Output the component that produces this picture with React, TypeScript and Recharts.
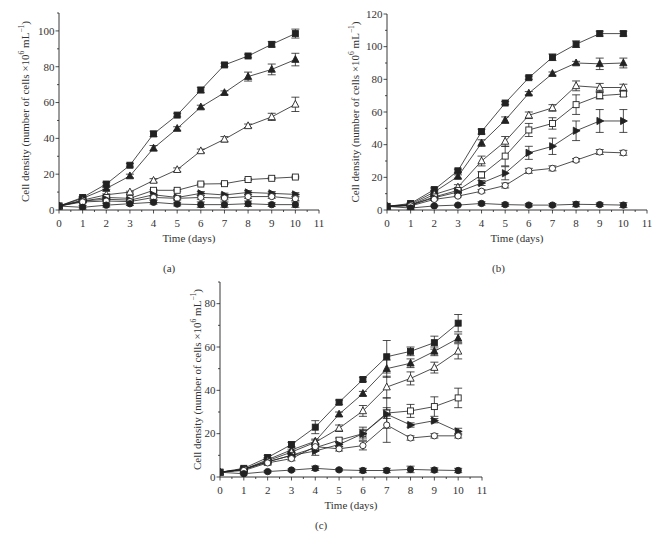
import React from 'react';
import { LineChart, Line, XAxis, YAxis, ErrorBar, Label } from 'recharts';

const FONT = '"Liberation Serif", "Times New Roman", serif';
const INK = '#222';

// ---- shared categories / ticks ----
const days = [0, 1, 2, 3, 4, 5, 6, 7, 8, 9, 10];
const xTicks = [0, 0.5, 1, 1.5, 2, 2.5, 3, 3.5, 4, 4.5, 5, 5.5, 6, 6.5, 7, 7.5, 8, 8.5, 9, 9.5, 10, 10.5, 11];
const yTicksA = [0, 10, 20, 30, 40, 50, 60, 70, 80, 90, 100, 110];
const yTicksB = [0, 10, 20, 30, 40, 50, 60, 70, 80, 90, 100, 110, 120];
const yTicksC = [0, 10, 20, 30, 40, 50, 60, 70, 80, 90];
const majorYTicksA = [0, 20, 40, 60, 80, 100];
const majorYTicksB = [0, 20, 40, 60, 80, 100, 120];
const majorYTicksC = [0, 20, 40, 60, 80];

// series order: filled square, filled triangle, open triangle, open square, filled right triangle, open circle, filled circle
const seriesKeys = ['fsq', 'ftri', 'otri', 'osq', 'rtri', 'ocirc', 'fcirc'];

// ---- panel (a) ----
const aFsq = [2.2, 7, 14.5, 25, 42.5, 53, 67, 81, 86, 92.5, 98.5];
const aFtri = [2.2, 6.5, 12, 19, 34.5, 45.5, 57.5, 65.5, 74.5, 78.5, 84];
const aOtri = [2.2, 5.5, 8.5, 10, 16.5, 22.5, 33, 39.5, 47, 52, 59];
const aOsq = [2.2, 5, 7, 6.5, 11, 11, 14.5, 14.7, 17, 17.7, 18.4];
const aRtri = [2.2, 5, 6, 5.5, 8.5, 7, 9.3, 8.4, 9.8, 9.3, 8.7];
const aOcirc = [2.2, 4.5, 5, 4.7, 7, 6.5, 7, 6.7, 7.5, 7.5, 6.3];
const aFcirc = [2.2, 1.5, 2.7, 3.5, 4.3, 3.3, 3, 3, 3.5, 3, 3];
const aFsqErr = [0, 0.5, 1, 1, 1.5, 1, 1.5, 1, 1, 1.5, 2.5];
const aFtriErr = [0, 0.5, 0.5, 1, 1.5, 1, 1, 1, 2.5, 3, 3.5];
const aOtriErr = [0, 0.5, 0.5, 0.5, 1, 1, 1, 1.5, 1, 2, 4];
const aOsqErr = [0, 0.5, 0.5, 0.5, 0.5, 0.5, 0.5, 0.5, 0.5, 0.5, 0.5];
const aRtriErr = [0, 0.5, 0.5, 0.5, 1, 1, 1, 1, 1, 1, 1];
const aOcircErr = [0, 0.5, 0.5, 0.5, 1, 1, 1, 1, 1, 1, 1];
const aFcircErr = [0, 1, 1, 1, 1, 1, 1.5, 1.5, 1.5, 1, 1.5];

// ---- panel (b) ----
const bFsq = [2.2, 4, 12.5, 24, 48, 65.5, 81, 93.5, 101.5, 108, 108];
const bFtri = [2.2, 3.5, 11, 20.5, 41, 55, 71.5, 83.5, 90, 89.5, 90];
const bOtri = [2.2, 3, 9.5, 14, 30, 42, 58, 62.5, 76, 75, 75];
const bOsq = [2.2, 3, 8, 12, 21.5, 33, 49, 53, 64.5, 70, 71];
const bRtri = [2.2, 3, 7.5, 11, 16.5, 22.5, 35, 39, 48.5, 54.5, 54.5];
const bOcirc = [2.2, 2.5, 6.5, 8.5, 11.5, 15, 24, 25.5, 30.5, 35.5, 35];
const bFcirc = [2.2, 1.2, 2.5, 3, 4, 3.3, 3, 3, 3.5, 3.3, 3];
const bFsqErr = [0, 0.5, 1, 1, 1.5, 1, 1, 2, 2, 1.5, 1.5];
const bFtriErr = [0, 0.5, 1, 1, 2, 2, 1, 1, 1, 3.5, 3];
const bOtriErr = [0, 0.5, 1, 1.5, 3, 3, 2, 2, 3, 2.5, 2];
const bOsqErr = [0, 0.5, 1, 1.5, 2, 6, 4, 3.5, 6, 2, 1.5];
const bRtriErr = [0, 0.5, 1, 1, 1.5, 4, 4, 5, 6, 7, 7];
const bOcircErr = [0, 0.5, 0.5, 0.5, 1, 1.5, 1.5, 1.5, 1, 1.5, 1.5];
const bFcircErr = [0, 1, 0.5, 0.5, 1, 1, 1, 1, 1.5, 1, 1.5];

// ---- panel (c) ----
const cFsq = [2.2, 4, 9, 15, 23, 34.5, 45, 55.5, 58, 62, 71];
const cFtri = [2.2, 3.5, 8, 12.5, 16.5, 29, 38.5, 50, 52.5, 58, 64];
const cOtri = [2.2, 3.5, 7.5, 11.5, 16, 22.5, 30.5, 41.5, 45.5, 50.5, 58];
const cOsq = [2.2, 3.5, 7, 10, 13.5, 17, 20, 29.5, 30.5, 32.5, 36.5];
const cRtri = [2.2, 3.5, 7, 10, 12, 15, 20, 29, 24, 26, 21];
const cOcirc = [2.2, 3, 6.5, 8.5, 14, 13, 14.5, 24, 18, 19, 19];
const cFcirc = [2.2, 1.5, 2.5, 3.2, 4, 3.3, 3, 3, 3.5, 3.2, 3];
const cFsqErr = [0, 0.5, 1, 1, 3, 1, 1, 7.5, 2, 3, 4];
const cFtriErr = [0, 0.5, 1, 1, 1, 1, 1, 4, 2, 2, 2];
const cOtriErr = [0, 0.5, 1, 1, 1, 1.5, 2.5, 5, 3, 2.5, 3.5];
const cOsqErr = [0, 0.5, 1, 1, 1, 1, 3, 7, 3, 4.5, 4.5];
const cRtriErr = [0, 0.5, 1, 1, 2, 1, 2, 2, 1, 1, 1.5];
const cOcircErr = [0, 0.5, 1, 1, 1, 1, 2, 8, 1, 1, 1];
const cFcircErr = [0, 0.5, 0.5, 0.5, 1, 0.5, 1, 1, 1.5, 1, 1];

const buildRows = (vals: number[][], errs: number[][]) =>
  days.map((d, i) => {
    const row: any = { day: d };
    seriesKeys.forEach((k, s) => {
      row[k] = vals[s][i];
      row[k + '_e'] = errs[s][i];
    });
    return row;
  });

const dataA = buildRows(
  [aFsq, aFtri, aOtri, aOsq, aRtri, aOcirc, aFcirc],
  [aFsqErr, aFtriErr, aOtriErr, aOsqErr, aRtriErr, aOcircErr, aFcircErr]
);
const dataB = buildRows(
  [bFsq, bFtri, bOtri, bOsq, bRtri, bOcirc, bFcirc],
  [bFsqErr, bFtriErr, bOtriErr, bOsqErr, bRtriErr, bOcircErr, bFcircErr]
);
const dataC = buildRows(
  [cFsq, cFtri, cOtri, cOsq, cRtri, cOcirc, cFcirc],
  [cFsqErr, cFtriErr, cOtriErr, cOsqErr, cRtriErr, cOcircErr, cFcircErr]
);

const Marker = ({ cx, cy, shape }: { cx: number; cy: number; shape: string }) => {
  if (cx == null || cy == null || isNaN(cx) || isNaN(cy)) return <g />;
  const sw = 0.9;
  switch (shape) {
    case 'fsq':
      return <rect x={cx - 3} y={cy - 3} width={6} height={6} fill={INK} stroke={INK} strokeWidth={sw} />;
    case 'osq':
      return <rect x={cx - 3} y={cy - 3} width={6} height={6} fill="#fff" stroke={INK} strokeWidth={sw} />;
    case 'ftri':
      return <polygon points={`${cx},${cy - 4} ${cx - 3.6},${cy + 2.8} ${cx + 3.6},${cy + 2.8}`} fill={INK} stroke={INK} strokeWidth={sw} />;
    case 'otri':
      return <polygon points={`${cx},${cy - 4} ${cx - 3.6},${cy + 2.8} ${cx + 3.6},${cy + 2.8}`} fill="#fff" stroke={INK} strokeWidth={sw} />;
    case 'rtri':
      return <polygon points={`${cx - 2.8},${cy - 3.6} ${cx - 2.8},${cy + 3.6} ${cx + 4},${cy}`} fill={INK} stroke={INK} strokeWidth={sw} />;
    case 'ocirc':
      return <circle cx={cx} cy={cy} r={3.1} fill="#fff" stroke={INK} strokeWidth={sw} />;
    default:
      return <circle cx={cx} cy={cy} r={3.2} fill={INK} stroke={INK} strokeWidth={sw} />;
  }
};

const makeDot = (shape: string) => (p: any) => (
  <Marker key={`dot-${shape}-${p.index}`} cx={p.cx} cy={p.cy} shape={shape} />
);

const XTick = (props: any) => {
  const { x, y, payload } = props;
  const v = payload.value;
  const major = Math.abs(v - Math.round(v)) < 1e-6;
  return (
    <g>
      <line x1={x} x2={x} y1={y} y2={y + (major ? 3.5 : 2)} stroke={INK} strokeWidth={0.8} />
      {major && (
        <text x={x} y={y + 16.5} textAnchor="middle" fontSize={11} fontFamily={FONT} fill="#333">
          {v}
        </text>
      )}
    </g>
  );
};

const makeYTick = (majors: number[]) => (props: any) => {
  const { x, y, payload } = props;
  const v = payload.value;
  const major = majors.indexOf(v) >= 0;
  return (
    <g>
      <line x1={x} x2={x - (major ? 3.5 : 2)} y1={y} y2={y} stroke={INK} strokeWidth={0.8} />
      {major && (
        <text x={x - 4.5} y={y + 3.8} textAnchor="end" fontSize={11} fontFamily={FONT} fill="#333">
          {v}
        </text>
      )}
    </g>
  );
};

const xLabelContent = (props: any) => {
  const vb = props.viewBox || {};
  return (
    <text x={vb.x + vb.width / 2} y={vb.y + 32} textAnchor="middle" fontSize={11} fontFamily={FONT} fill="#333">
      Time (days)
    </text>
  );
};

const makeYLabel = (offset: number) => (props: any) => {
  const vb = props.viewBox || {};
  const cx = vb.x + vb.width - offset;
  const cy = vb.y + vb.height / 2;
  return (
    <text
      x={cx}
      y={cy}
      transform={`rotate(-90 ${cx} ${cy})`}
      textAnchor="middle"
      dominantBaseline="central"
      fontSize={11}
      fontFamily={FONT}
      fill="#333"
    >
      Cell density (number of cells ×10
      <tspan fontSize={7.5} dy={-4}>6</tspan>
      <tspan dy={4}> mL</tspan>
      <tspan fontSize={7.5} dy={-4}>−1</tspan>
      <tspan dy={4}>)</tspan>
    </text>
  );
};

const shapes = ['fsq', 'ftri', 'otri', 'osq', 'rtri', 'ocirc', 'fcirc'];

type PanelProps = {
  data: any[];
  width: number;
  height: number;
  margin: { top: number; right: number; bottom: number; left: number };
  yAxisWidth: number;
  xAxisHeight: number;
  yMax: number;
  yTicks: number[];
  majors: number[];
  labelOffset: number;
};

const Panel = ({ data, width, height, margin, yAxisWidth, xAxisHeight, yMax, yTicks, majors, labelOffset }: PanelProps) => (
  <LineChart width={width} height={height} data={data} margin={margin}>
    <XAxis
      xAxisId="b"
      type="number"
      dataKey="day"
      domain={[0, 11]}
      ticks={xTicks}
      interval={0}
      tickSize={0}
      tickMargin={0}
      tickLine={false}
      tick={<XTick />}
      height={xAxisHeight}
      axisLine={{ stroke: INK, strokeWidth: 0.9 }}
      allowDataOverflow
    >
      <Label content={xLabelContent} />
    </XAxis>
    <XAxis
      xAxisId="t"
      orientation="top"
      type="number"
      dataKey="day"
      domain={[0, 11]}
      tick={false}
      tickLine={false}
      height={0}
      axisLine={{ stroke: INK, strokeWidth: 0.9 }}
    />
    <YAxis
      yAxisId="l"
      type="number"
      domain={[0, yMax]}
      ticks={yTicks}
      interval={0}
      tickSize={0}
      tickMargin={0}
      tickLine={false}
      tick={makeYTick(majors)}
      width={yAxisWidth}
      axisLine={{ stroke: INK, strokeWidth: 0.9 }}
      allowDataOverflow
    >
      <Label content={makeYLabel(labelOffset)} />
    </YAxis>
    <YAxis
      yAxisId="r"
      orientation="right"
      type="number"
      domain={[0, yMax]}
      tick={false}
      tickLine={false}
      width={0}
      axisLine={{ stroke: INK, strokeWidth: 0.9 }}
    />
    {shapes.map((s) => (
      <Line
        key={s}
        xAxisId="b"
        yAxisId="l"
        type="linear"
        dataKey={s}
        stroke={INK}
        strokeWidth={0.8}
        dot={makeDot(s)}
        activeDot={false}
        isAnimationActive={false}
      >
        <ErrorBar dataKey={s + '_e'} width={4} stroke={INK} strokeWidth={0.8} direction="y" />
      </Line>
    ))}
  </LineChart>
);

const captionStyle = (left: number, top: number): React.CSSProperties => ({
  position: 'absolute',
  left,
  top,
  fontFamily: FONT,
  fontSize: 11,
  color: '#333',
  lineHeight: '12px',
});

export default function App() {
  return (
    <div style={{ position: 'absolute', left: 0, top: 0, width: 664, height: 536, background: '#fff', overflow: 'hidden' }}>
      <div style={{ position: 'absolute', left: 0, top: 0 }}>
        <Panel
          data={dataA}
          width={330}
          height={260}
          margin={{ top: 13, right: 11, bottom: 0, left: 0 }}
          yAxisWidth={59}
          xAxisHeight={50}
          yMax={110}
          yTicks={yTicksA}
          majors={majorYTicksA}
          labelOffset={34}
        />
      </div>
      <div style={{ position: 'absolute', left: 330, top: 0 }}>
        <Panel
          data={dataB}
          width={334}
          height={260}
          margin={{ top: 14, right: 17, bottom: 0, left: 0 }}
          yAxisWidth={57}
          xAxisHeight={50}
          yMax={120}
          yTicks={yTicksB}
          majors={majorYTicksB}
          labelOffset={32}
        />
      </div>
      <div style={{ position: 'absolute', left: 160, top: 268 }}>
        <Panel
          data={dataC}
          width={340}
          height={268}
          margin={{ top: 14, right: 18, bottom: 0, left: 0 }}
          yAxisWidth={60}
          xAxisHeight={59}
          yMax={90}
          yTicks={yTicksC}
          majors={majorYTicksC}
          labelOffset={23}
        />
      </div>
      <div style={captionStyle(163, 262)}>(a)</div>
      <div style={captionStyle(492, 262)}>(b)</div>
      <div style={captionStyle(315, 519)}>(c)</div>
    </div>
  );
}
